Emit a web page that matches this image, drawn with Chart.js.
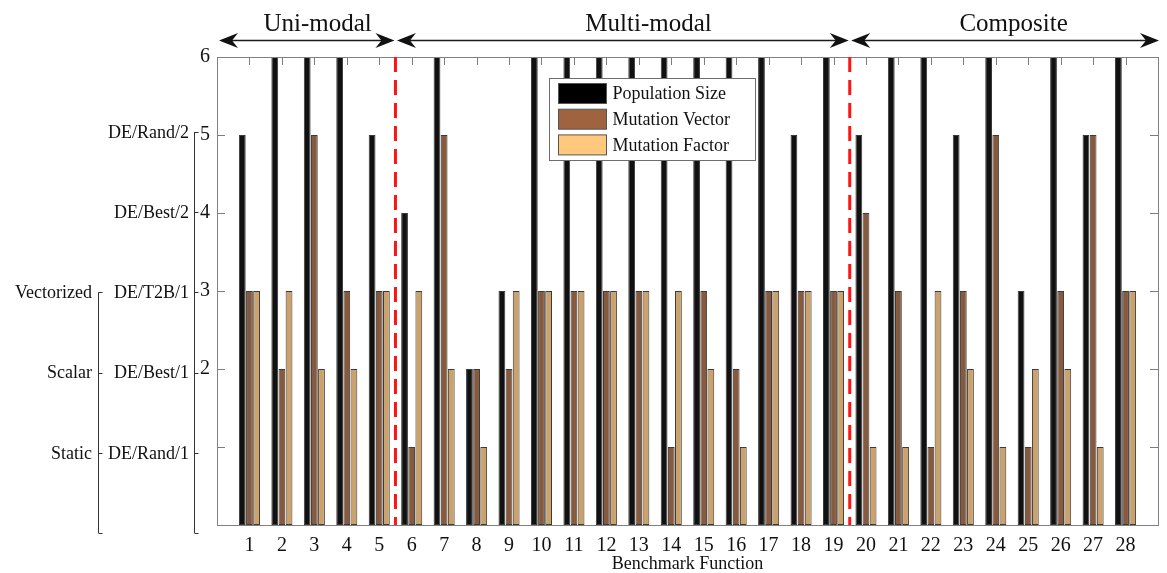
<!DOCTYPE html>
<html>
<head>
<meta charset="utf-8">
<title>DE parameter choices per benchmark function</title>
<script src="https://cdn.jsdelivr.net/npm/chart.js@4.4.1/dist/chart.umd.min.js"></script>
<style>
  html, body { margin: 0; padding: 0; background: #ffffff; }
  #wrap { width: 1167px; height: 573px; position: relative; }
</style>
</head>
<body>
<div id="wrap"><canvas id="c" width="1167" height="573"></canvas></div>
<script>
// Benchmark functions on the x axis
const functions = ['1','2','3','4','5','6','7','8','9','10','11','12','13','14',
                   '15','16','17','18','19','20','21','22','23','24','25','26','27','28'];

// Chosen level of each parameter for every function
const populationSize = [5,6,6,6,5,4,6,2,3,6,6,6,6,6,6,6,6,5,6,5,6,6,5,6,3,6,5,6];
const mutationVector = [3,2,5,3,3,1,5,2,2,3,3,3,3,1,3,2,3,3,3,4,3,1,3,5,1,3,5,3];
const mutationFactor = [3,3,2,2,3,3,2,1,3,3,3,3,3,3,2,1,3,3,3,1,1,3,2,1,2,2,1,3];

// Numeric tick labels shown on the value axis
const valueTicks = [2, 3, 4, 5, 6];

// Mutation strategy names for levels 1..5
const strategyNames = ['DE/Rand/1', 'DE/Best/1', 'DE/T2B/1', 'DE/Best/2', 'DE/Rand/2'];
// Mutation factor kinds for levels 1..3
const factorNames = ['Static', 'Scalar', 'Vectorized'];

// Function groups: first and last function of each group
const groupNames = ['Uni-modal', 'Multi-modal', 'Composite'];
const groupFirst = [1, 6, 20];
const groupLast  = [5, 19, 28];

const SERIF = '"Liberation Serif", "Times New Roman", serif';

// Padded label list: an empty slot before 1 and after 28 keeps the axis running from 0 to 29
const axisLabels = [''].concat(functions, ['']);
const pad = arr => [null].concat(arr, [null]);

const decor = {
  id: 'decor',
  beforeDatasetsDraw(chart) {
    const { ctx, chartArea: a, scales: { x, y } } = chart;
    ctx.save();
    ctx.strokeStyle = '#7d7d7d';
    ctx.lineWidth = 1;
    ctx.beginPath();
    // inward ticks along the top edge, one per function
    for (let i = 1; i <= functions.length; i++) {
      const px = Math.round(x.getPixelForValue(i)) + 0.5;
      ctx.moveTo(px, a.top);
      ctx.lineTo(px, a.top + 8);
    }
    // inward ticks on both vertical edges
    for (let v = 1; v <= 6; v++) {
      const py = Math.round(y.getPixelForValue(v)) + 0.5;
      ctx.moveTo(a.left, py); ctx.lineTo(a.left + 8, py);
      ctx.moveTo(a.right, py); ctx.lineTo(a.right - 8, py);
    }
    ctx.stroke();
    ctx.restore();
  },
  afterDatasetsDraw(chart) {
    const { ctx, chartArea: a, scales: { x, y } } = chart;
    ctx.save();

    // plot frame
    ctx.strokeStyle = '#808080';
    ctx.lineWidth = 1;
    ctx.strokeRect(Math.round(a.left) + 0.5, Math.round(a.top) + 0.5,
                   Math.round(a.right - a.left), Math.round(a.bottom - a.top));

    // group boundaries (between the last function of a group and the next one)
    const edges = [0];
    for (let g = 0; g < groupNames.length - 1; g++) edges.push(groupLast[g] + 0.5);
    edges.push(functions.length + 1);

    ctx.strokeStyle = '#ff1414';
    ctx.lineWidth = 3;
    ctx.setLineDash([15, 8]);
    for (let g = 1; g < edges.length - 1; g++) {
      const px = x.getPixelForValue(edges[g]);
      ctx.beginPath();
      ctx.moveTo(px, a.top);
      ctx.lineTo(px, a.bottom);
      ctx.stroke();
    }
    ctx.setLineDash([]);

    // double arrows above the plot, one per group
    const arrowY = 40.5;
    const head = (tip, dir) => {
      const L = 19, W = 7.5, N = 6;
      ctx.beginPath();
      ctx.moveTo(tip, arrowY);
      ctx.lineTo(tip - dir * L, arrowY - W);
      ctx.lineTo(tip - dir * (L - N), arrowY);
      ctx.lineTo(tip - dir * L, arrowY + W);
      ctx.closePath();
      ctx.fill();
    };
    ctx.strokeStyle = '#1a1a1a';
    ctx.fillStyle = '#111111';
    ctx.lineWidth = 1.3;
    const labelShift = [0.1, 0.8, 0.55];
    for (let g = 0; g < groupNames.length; g++) {
      const x0 = x.getPixelForValue(edges[g]) + (g === 0 ? 2 : 1.5);
      const x1 = x.getPixelForValue(edges[g + 1]) - (g === groupNames.length - 1 ? -1 : 1);
      ctx.beginPath();
      ctx.moveTo(x0 + 10, arrowY);
      ctx.lineTo(x1 - 10, arrowY);
      ctx.stroke();
      head(x0, -1);
      head(x1, 1);
      const mid = (groupFirst[g] + groupLast[g]) / 2 + labelShift[g];
      ctx.font = '25px ' + SERIF;
      ctx.textAlign = 'center';
      ctx.textBaseline = 'alphabetic';
      ctx.fillText(groupNames[g], x.getPixelForValue(mid), 31);
    }

    // x axis title
    ctx.font = '18px ' + SERIF;
    ctx.textAlign = 'center';
    ctx.textBaseline = 'middle';
    ctx.fillStyle = '#111111';
    ctx.fillText('Benchmark Function', (a.left + a.right) / 2, 564);

    // secondary category axes on the left: strategy names and factor kinds
    const lvlTop = 132, lvlBottom = 533, lvlMax = 5;
    const lvl = v => lvlBottom - v * (lvlBottom - lvlTop) / lvlMax;
    ctx.strokeStyle = '#333333';
    ctx.lineWidth = 1;
    const sideAxis = (ax, maxLevel, names, labelX) => {
      ctx.beginPath();
      ctx.moveTo(ax, lvl(maxLevel));
      ctx.lineTo(ax, lvl(0));
      for (let v = 0; v <= maxLevel; v++) {
        const py = Math.round(lvl(v)) + 0.5;
        ctx.moveTo(ax, py);
        ctx.lineTo(ax + 4, py);
      }
      ctx.stroke();
      ctx.font = '18px ' + SERIF;
      ctx.textAlign = 'right';
      ctx.textBaseline = 'middle';
      names.forEach((n, i) => ctx.fillText(n, labelX, lvl(i + 1) + 1));
    };
    sideAxis(194.5, strategyNames.length, strategyNames, 189);
    sideAxis(98.5, factorNames.length, factorNames, 92);

    // legend inside the plot
    const lx = a.left + 332.5, ly = a.top + 21.5, lw = 206, lh = 82;
    ctx.fillStyle = '#ffffff';
    ctx.fillRect(lx, ly, lw, lh);
    ctx.strokeStyle = '#6e6e6e';
    ctx.strokeRect(lx, ly, lw, lh);
    const swatch = ['#000000', '#a0633f', '#ffc87c'];
    chart.data.datasets.forEach((ds, i) => {
      const ry = ly + 5 + i * 25.7;
      ctx.fillStyle = swatch[i];
      ctx.fillRect(lx + 9, ry, 48, 20);
      ctx.strokeStyle = '#555555';
      ctx.strokeRect(lx + 9, ry, 48, 20);
      ctx.fillStyle = '#111111';
      ctx.font = '18px ' + SERIF;
      ctx.textAlign = 'left';
      ctx.textBaseline = 'middle';
      ctx.fillText(ds.label, lx + 63, ry + 11);
    });

    ctx.restore();
  }
};

const barStyle = {
  borderColor: '#3a3a3a',
  borderWidth: 1,
  borderSkipped: false,
  categoryPercentage: 0.66,
  barPercentage: 0.95
};

new Chart(document.getElementById('c'), {
  type: 'bar',
  data: {
    labels: axisLabels,
    datasets: [
      Object.assign({ label: 'Population Size', data: pad(populationSize), backgroundColor: '#111111' }, barStyle),
      Object.assign({ label: 'Mutation Vector', data: pad(mutationVector), backgroundColor: '#875a3d' }, barStyle),
      Object.assign({ label: 'Mutation Factor', data: pad(mutationFactor), backgroundColor: '#cca26c' }, barStyle)
    ]
  },
  options: {
    responsive: false,
    animation: false,
    devicePixelRatio: 1,
    layout: { padding: { top: 57, right: 5, left: 0, bottom: 0 } },
    plugins: { legend: { display: false }, tooltip: { enabled: false } },
    scales: {
      x: {
        type: 'category',
        offset: false,
        grid: { display: false, drawTicks: false },
        border: { display: false },
        ticks: {
          autoSkip: false, maxRotation: 0, minRotation: 0,
          padding: 9,
          color: '#111111',
          font: { family: SERIF, size: 20 }
        },
        afterFit(s) { s.height = 48; }
      },
      y: {
        min: 0, max: 6,
        grid: { display: false, drawTicks: false },
        border: { display: false },
        ticks: {
          stepSize: 1,
          padding: 7,
          color: '#111111',
          font: { family: SERIF, size: 20 },
          callback: v => (valueTicks.includes(v) ? String(v) : '')
        },
        afterFit(s) { s.width = 217; }
      }
    }
  },
  plugins: [decor]
});
</script>
</body>
</html>
